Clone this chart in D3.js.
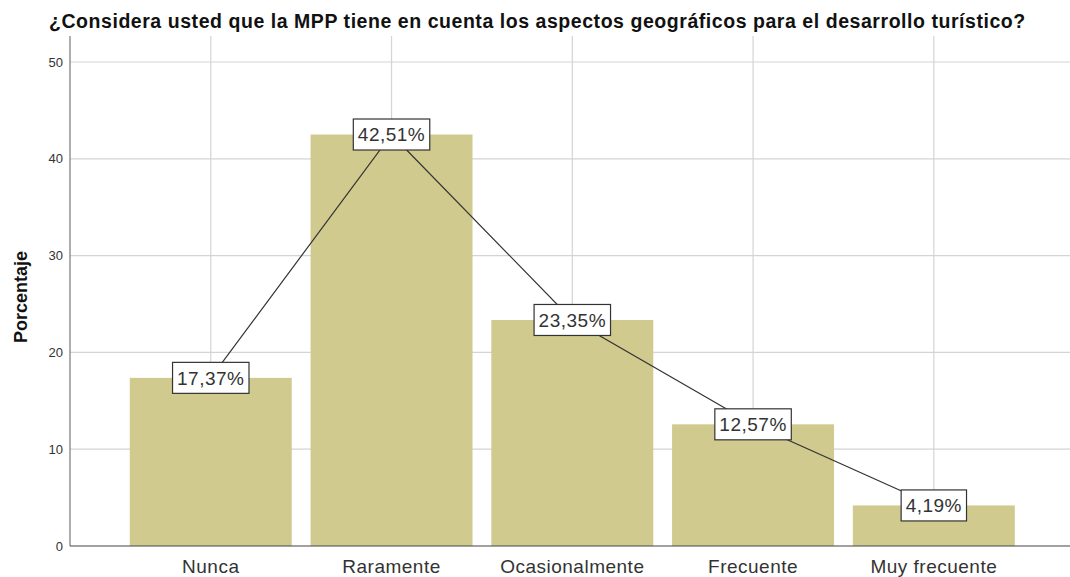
<!DOCTYPE html>
<html>
<head>
<meta charset="utf-8">
<script src="https://cdn.jsdelivr.net/npm/d3@7"></script>
<style>
  body { margin: 0; background: #fff; }
  text { font-family: "Liberation Sans", Arial, sans-serif; }
</style>
</head>
<body>
<div id="chart"></div>
<script>
// chart data
var categories = ["Nunca", "Raramente", "Ocasionalmente", "Frecuente", "Muy frecuente"];
var percentages = [17.37, 42.51, 23.35, 12.57, 4.19];
var yTicks = [0, 10, 20, 30, 40, 50];
var chartTitle = "¿Considera usted que la MPP tiene en cuenta los aspectos geográficos para el desarrollo turístico?";
var yTitle = "Porcentaje";

var width = 1070, height = 577;
var margin = {top: 36, right: 0, bottom: 31, left: 70};

var svg = d3.select("#chart").append("svg")
    .attr("width", width)
    .attr("height", height);

// scales
var x = d3.scaleBand()
    .domain(categories)
    .range([margin.left, width - margin.right])
    .paddingInner(0.104)
    .paddingOuter(0.318)
    .align(0.52);
var y = d3.scaleLinear().domain([0, 50]).range([546, 62]);

// horizontal gridlines
svg.append("g").selectAll("line")
    .data(yTicks.filter(function(d){ return d > 0; }))
    .enter().append("line")
        .attr("x1", margin.left)
        .attr("x2", width)
        .attr("y1", function(d){ return y(d); })
        .attr("y2", function(d){ return y(d); })
        .attr("stroke", "#d4d4d4")
        .attr("stroke-width", 1.2);

// vertical gridlines at category centers
svg.append("g").selectAll("line")
    .data(categories)
    .enter().append("line")
        .attr("x1", function(d){ return x(d) + x.bandwidth()/2; })
        .attr("x2", function(d){ return x(d) + x.bandwidth()/2; })
        .attr("y1", margin.top)
        .attr("y2", y(0))
        .attr("stroke", "#d4d4d4")
        .attr("stroke-width", 1.2);

// bars
svg.append("g").selectAll("rect")
    .data(percentages)
    .enter().append("rect")
        .attr("x", function(d, i){ return x(categories[i]); })
        .attr("width", x.bandwidth())
        .attr("y", function(d){ return y(d); })
        .attr("height", function(d){ return y(0) - y(d); })
        .attr("fill", "#d0ca8f");

// y axis
var yAxis = svg.append("g")
    .attr("transform", "translate(" + margin.left + ",0)")
    .call(d3.axisLeft(y).tickValues(yTicks).tickSize(0).tickPadding(7));
yAxis.select(".domain").remove();
yAxis.selectAll("text")
    .attr("fill", "#333")
    .style("font-size", "13px")
    .style("font-family", "'Liberation Sans', Arial, sans-serif");
svg.append("line")
    .attr("x1", margin.left).attr("x2", margin.left)
    .attr("y1", margin.top).attr("y2", y(0))
    .attr("stroke", "#777").attr("stroke-width", 1.2);

// x axis
var xAxis = svg.append("g")
    .attr("transform", "translate(0," + y(0) + ")")
    .call(d3.axisBottom(x).tickSize(0).tickPadding(10));
xAxis.select(".domain").remove();
xAxis.selectAll("text")
    .attr("fill", "#333")
    .attr("dy", "0.9em")
    .style("font-size", "19px")
    .style("letter-spacing", "0.5px")
    .style("font-family", "'Liberation Sans', Arial, sans-serif");
svg.append("line")
    .attr("x1", margin.left).attr("x2", width)
    .attr("y1", y(0)).attr("y2", y(0))
    .attr("stroke", "#444").attr("stroke-width", 1.2);

// connecting line through bar tops
var line = d3.line()
    .x(function(d, i){ return x(categories[i]) + x.bandwidth()/2; })
    .y(function(d){ return y(d); });
svg.append("path")
    .datum(percentages)
    .attr("d", line)
    .attr("fill", "none")
    .attr("stroke", "#333")
    .attr("stroke-width", 1.2);

// value labels in boxes
var fmt = function(v){ return v.toFixed(2).replace(".", ",") + "%"; };
var labels = svg.append("g").selectAll("g")
    .data(percentages)
    .enter().append("g")
        .attr("transform", function(d, i){
            return "translate(" + (x(categories[i]) + x.bandwidth()/2) + "," + y(d) + ")";
        });
var boxes = labels.append("rect")
    .attr("fill", "#fff")
    .attr("stroke", "#333")
    .attr("stroke-width", 1.2);
var labelText = labels.append("text")
    .attr("text-anchor", "middle")
    .attr("dy", "0.36em")
    .attr("fill", "#333")
    .style("font-size", "19px")
    .style("letter-spacing", "0.5px")
    .text(fmt);
labelText.each(function(d, i){
    var w = this.getComputedTextLength() + 9;
    d3.select(boxes.nodes()[i])
        .attr("x", -w/2)
        .attr("y", -15.5)
        .attr("width", w)
        .attr("height", 31);
});

// title
svg.append("text")
    .attr("x", 49)
    .attr("y", 28)
    .attr("fill", "#111")
    .style("font-size", "19.5px")
    .style("letter-spacing", "0.55px")
    .style("font-weight", "bold")
    .text(chartTitle);

// y axis title
svg.append("text")
    .attr("transform", "translate(27,297) rotate(-90)")
    .attr("text-anchor", "middle")
    .attr("fill", "#111")
    .style("font-size", "18px")
    .style("font-weight", "bold")
    .text(yTitle);
</script>
</body>
</html>
